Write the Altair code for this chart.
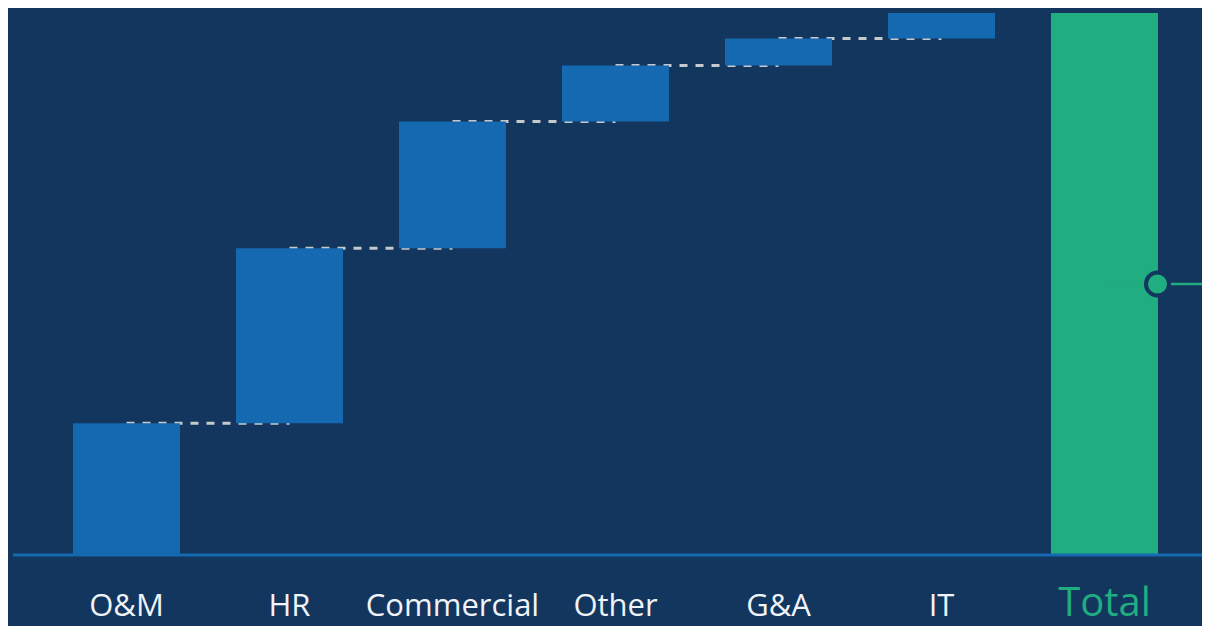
import altair as alt
import numpy as np
import pandas as pd

# ---- data ----
categories = ["O&M", "HR", "Commercial", "Other", "G&A", "IT", "Total"]
increments = [24.3, 32.3, 23.4, 10.3, 5.0, 4.7]
marker_value = 50.0

BG = "#13365f"
BLUE = "#1469b0"
GREEN = "#20ad80"

ends = list(np.cumsum(increments))
starts = [0.0] + ends[:-1]
total = ends[-1]

bars_df = pd.DataFrame({
    "cat": categories,
    "start": starts + [0.0],
    "end": ends + [total],
    "kind": ["step"] * len(increments) + ["total"],
})
conn_df = pd.DataFrame({
    "cat": categories[:5],
    "next": categories[1:6],
    "level": ends[:5],
})
marker_df = pd.DataFrame({"cat": ["Total"], "v": [marker_value]})
base_df = pd.DataFrame({"v": [0.0]})

W, H = 1189, 542

xscale = alt.Scale(domain=categories, range=[32, 1173],
                   paddingInner=0.3436, paddingOuter=0.1718)
yscale = alt.Scale(domain=[0, 100], nice=False, zero=True)

x_axis = alt.Axis(
    title=None, domain=False, ticks=False, tickSize=0, grid=False,
    labelAngle=0, labelBaseline="alphabetic", labelPadding=60,
    labelFont="Open Sans", labelFontWeight="normal",
    labelColor=alt.condition("datum.value == 'Total'", alt.value(GREEN), alt.value("#f0f3f7")),
    labelFontSize=alt.condition("datum.value == 'Total'", alt.value(40), alt.value(31)),
)

connectors = alt.Chart(conn_df).mark_rule(
    color="#c5c8cc", strokeWidth=3, strokeDash=[8, 8]
).encode(
    x=alt.X("cat:N", scale=xscale, axis=x_axis, sort=categories),
    x2="next:N",
    y=alt.Y("level:Q", scale=yscale, axis=None),
)

bars = alt.Chart(bars_df).mark_bar().encode(
    x=alt.X("cat:N", scale=xscale, axis=x_axis, sort=categories),
    y=alt.Y("start:Q", scale=yscale, axis=None),
    y2="end:Q",
    color=alt.Color("kind:N", scale=alt.Scale(domain=["step", "total"], range=[BLUE, GREEN]), legend=None),
)

baseline = alt.Chart(base_df).mark_rule(color=BLUE, strokeWidth=3).encode(
    y=alt.Y("v:Q", scale=yscale, axis=None),
    x=alt.value(0),
    x2=alt.value(W),
)

marker_line = alt.Chart(marker_df).mark_rule(color=GREEN, strokeWidth=2.5).encode(
    x=alt.X("cat:N", scale=xscale, axis=x_axis, sort=categories),
    x2=alt.value(W),
    y=alt.Y("v:Q", scale=yscale, axis=None),
)

marker = alt.Chart(marker_df).mark_point(
    shape="circle", filled=True, fill=GREEN, stroke=BG, strokeWidth=4,
    size=530, opacity=1, xOffset=53,
).encode(
    x=alt.X("cat:N", scale=xscale, axis=x_axis, sort=categories),
    y=alt.Y("v:Q", scale=yscale, axis=None),
)

chart = alt.layer(connectors, bars, baseline, marker_line, marker).properties(
    width=W, height=H,
    autosize=alt.AutoSizeParams(type="none"),
    padding={"left": 5, "top": 5, "right": 0, "bottom": 72},
    background=BG,
).configure_view(stroke=None)

chart.save("out.html", embed_options={"renderer": "svg", "actions": False})
